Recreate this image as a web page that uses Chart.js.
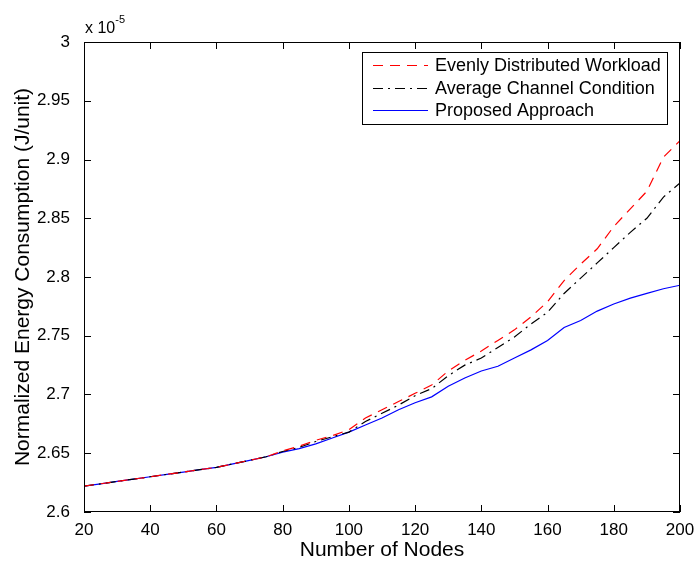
<!DOCTYPE html>
<html>
<head>
<meta charset="utf-8">
<script src="https://cdn.jsdelivr.net/npm/chart.js@4.4.1/dist/chart.umd.min.js"></script>
<style>
  html, body { margin: 0; padding: 0; background: #fff; }
</style>
</head>
<body>
<canvas id="energy" width="696" height="562"></canvas>
<script>
// 데이터 (단위: x 10^-5 J/unit)
const nodes = [20, 25, 30, 35, 40, 45, 50, 55, 60, 65, 70, 75, 80, 85, 90, 95, 100, 105, 110, 115,
               120, 125, 130, 135, 140, 145, 150, 155, 160, 165, 170, 175, 180, 185, 190, 195, 200];

const evenlyDistributed = [2.622, 2.624, 2.626, 2.628, 2.630, 2.632, 2.634, 2.636, 2.638, 2.641,
                           2.644, 2.647, 2.652, 2.656, 2.661, 2.665, 2.670, 2.680, 2.687, 2.694,
                           2.701, 2.708, 2.720, 2.729, 2.737, 2.746, 2.755, 2.766, 2.779, 2.797,
                           2.811, 2.824, 2.843, 2.858, 2.873, 2.902, 2.916];

const averageChannel = [2.622, 2.624, 2.626, 2.628, 2.630, 2.632, 2.634, 2.636, 2.638, 2.641,
                        2.644, 2.647, 2.6515, 2.655, 2.660, 2.664, 2.668, 2.677, 2.684, 2.691,
                        2.699, 2.705, 2.716, 2.725, 2.731, 2.740, 2.749, 2.760, 2.770, 2.786,
                        2.799, 2.812, 2.825, 2.838, 2.850, 2.868, 2.880];

const proposed = [2.622, 2.624, 2.626, 2.628, 2.630, 2.632, 2.634, 2.636, 2.638, 2.641,
                  2.644, 2.647, 2.651, 2.654, 2.658, 2.663, 2.668, 2.674, 2.680, 2.687,
                  2.693, 2.698, 2.707, 2.714, 2.720, 2.724, 2.731, 2.738, 2.746, 2.757,
                  2.763, 2.771, 2.777, 2.782, 2.786, 2.790, 2.793];

const seriesLabels = ['Evenly Distributed Workload', 'Average Channel Condition', 'Proposed Approach'];
const xTicks = [20, 40, 60, 80, 100, 120, 140, 160, 180, 200];
const yTicks = [2.6, 2.65, 2.7, 2.75, 2.8, 2.85, 2.9, 2.95, 3];
const yTickLabels = ['2.6', '2.65', '2.7', '2.75', '2.8', '2.85', '2.9', '2.95', '3'];

const FONT = "'Liberation Sans', Arial, Helvetica, sans-serif";
Chart.defaults.font.family = FONT;
Chart.defaults.color = '#000';

function toPoints(values) {
    return nodes.map((n, i) => ({ x: n, y: values[i] }));
}

// MATLAB 스타일 박스, 안쪽 눈금, 지수 표시, 범례
const matlabAxes = {
    id: 'matlabAxes',
    afterDatasetsDraw(chart) {
        const { ctx, chartArea: a, scales: { x, y } } = chart;
        const tickLen = 7;
        ctx.save();
        ctx.strokeStyle = '#000';
        ctx.lineWidth = 1;
        ctx.setLineDash([]);
        ctx.strokeRect(a.left + 0.5, a.top + 0.5, a.right - a.left - 1, a.bottom - a.top - 1);

        ctx.beginPath();
        xTicks.forEach(v => {
            const px = Math.round(x.getPixelForValue(v)) + 0.5;
            ctx.moveTo(px, a.bottom); ctx.lineTo(px, a.bottom - tickLen);
            ctx.moveTo(px, a.top); ctx.lineTo(px, a.top + tickLen);
        });
        yTicks.forEach(v => {
            const py = Math.round(y.getPixelForValue(v)) + 0.5;
            ctx.moveTo(a.left, py); ctx.lineTo(a.left + tickLen, py);
            ctx.moveTo(a.right, py); ctx.lineTo(a.right - tickLen, py);
        });
        ctx.stroke();

        // x 10^-5
        ctx.fillStyle = '#000';
        ctx.textBaseline = 'alphabetic';
        ctx.textAlign = 'left';
        ctx.font = '16px ' + FONT;
        ctx.fillText('x 10', a.left + 1, a.top - 9);
        const w = ctx.measureText('x 10').width;
        ctx.font = '11px ' + FONT;
        ctx.fillText('-5', a.left + 1 + w, a.top - 19);

        // 범례
        const box = { l: 362, t: 52, r: 667, b: 124 };
        ctx.fillStyle = '#fff';
        ctx.fillRect(box.l, box.t, box.r - box.l, box.b - box.t);
        ctx.strokeRect(box.l + 0.5, box.t + 0.5, box.r - box.l, box.b - box.t);
        const rows = [65, 88, 110];
        ctx.font = '18px ' + FONT;
        ctx.textBaseline = 'middle';
        chart.data.datasets.forEach((ds, i) => {
            const ry = rows[i] + 0.5;
            ctx.strokeStyle = ds.borderColor;
            ctx.setLineDash(ds.borderDash || []);
            ctx.beginPath();
            ctx.moveTo(373, ry); ctx.lineTo(428, ry);
            ctx.stroke();
            ctx.fillStyle = '#000';
            ctx.fillText(ds.label, 435, rows[i] + 1);
        });
        ctx.restore();
    }
};

const ctx = document.getElementById('energy').getContext('2d');
const energyChart = new Chart(ctx, {
    type: 'line',
    data: {
        datasets: [{
            label: seriesLabels[0],
            data: toPoints(evenlyDistributed),
            borderColor: '#ff0000',
            borderWidth: 1.2,
            borderDash: [10, 7]
        }, {
            label: seriesLabels[1],
            data: toPoints(averageChannel),
            borderColor: '#000000',
            borderWidth: 1.2,
            borderDash: [10, 5, 2, 5]
        }, {
            label: seriesLabels[2],
            data: toPoints(proposed),
            borderColor: '#0000ff',
            borderWidth: 1.2
        }]
    },
    options: {
        responsive: false,
        animation: false,
        layout: { padding: { top: 42, right: 16, left: 0, bottom: 0 } },
        elements: { point: { radius: 0 }, line: { tension: 0 } },
        plugins: {
            legend: { display: false },
            tooltip: { enabled: false }
        },
        scales: {
            x: {
                type: 'linear',
                min: 20,
                max: 200,
                afterFit: s => { s.height = 50; },
                afterBuildTicks: s => { s.ticks = xTicks.map(v => ({ value: v })); },
                grid: { display: false },
                border: { display: false },
                ticks: { font: { size: 17 }, padding: 0, maxRotation: 0 },
                title: { display: true, text: 'Number of Nodes', font: { size: 21 }, padding: { top: 0, bottom: -1 } }
            },
            y: {
                min: 2.6,
                max: 3,
                afterFit: s => { s.width = 84; },
                afterBuildTicks: s => { s.ticks = yTicks.map(v => ({ value: v })); },
                grid: { display: false },
                border: { display: false },
                ticks: {
                    font: { size: 17 },
                    padding: 6,
                    callback: (v, i) => yTickLabels[i]
                },
                title: { display: true, text: 'Normalized Energy Consumption (J/unit)', font: { size: 21 }, padding: { top: 11, bottom: 0 } }
            }
        }
    },
    plugins: [matlabAxes]
});
</script>
</body>
</html>
